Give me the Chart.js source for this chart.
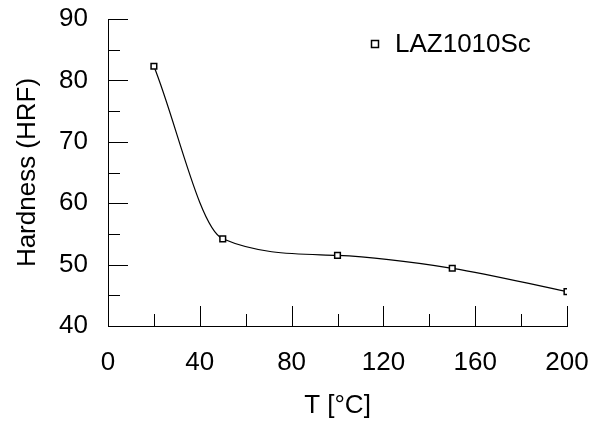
<!DOCTYPE html>
<html>
<head>
<meta charset="utf-8">
<script src="https://cdn.jsdelivr.net/npm/chart.js@4.4.0/dist/chart.umd.min.js"></script>
<style>
body{margin:0;background:#fff;}
#contenitore{width:592px;height:424px;}
</style>
</head>
<body>
<div id="contenitore"><canvas id="grafico"></canvas></div>
<script>
var temperature=[20,50,100,150,200];
var durezza=[82.3,54.2,51.5,49.4,45.6];
var nomeSerie="LAZ1010Sc";
var xTicks=[0,40,80,120,160,200];
var yTicks=[40,50,60,70,80,90];

var punti=[];
for(var i=0;i<temperature.length;i++)
{
    punti.push({x:temperature[i],y:durezza[i]});
}

// tacche interne agli assi (maggiori e minori) + legenda dentro il grafico
var tacche={
    id:'tacche',
    afterDraw:function(chart){
        var ctx=chart.ctx;
        var sx=chart.scales.x;
        var sy=chart.scales.y;
        var area=chart.chartArea;
        ctx.save();
        ctx.strokeStyle="#000";
        ctx.lineWidth=1;
        sx.ticks.forEach(function(t){
            var px=Math.round(sx.getPixelForValue(t.value))+0.5;
            var l=(xTicks.indexOf(t.value)>=0)?20:12;
            ctx.beginPath();
            ctx.moveTo(px,area.bottom);
            ctx.lineTo(px,area.bottom-l);
            ctx.stroke();
        });
        sy.ticks.forEach(function(t){
            var py=Math.round(sy.getPixelForValue(t.value))+0.5;
            var l=(yTicks.indexOf(t.value)>=0)?20:12;
            ctx.beginPath();
            ctx.moveTo(area.left,py);
            ctx.lineTo(area.left+l,py);
            ctx.stroke();
        });
        // legenda
        var ds=chart.data.datasets[0];
        var lx=area.right-192;
        var ly=area.top+25;
        ctx.lineWidth=1.5;
        ctx.fillStyle="#fff";
        ctx.fillRect(lx-3.5,ly-3.5,7,7);
        ctx.strokeRect(lx-3.5,ly-3.5,7,7);
        ctx.fillStyle="#000";
        ctx.font="26px 'Liberation Sans', Arial, sans-serif";
        ctx.textBaseline="middle";
        ctx.textAlign="left";
        ctx.fillText(ds.label,lx+20,ly+1);
        ctx.restore();
    }
};

Chart.defaults.font.family="'Liberation Sans', Arial, sans-serif";
Chart.defaults.color="#000";

var grafico=new Chart(document.getElementById("grafico"),{
    type:'scatter',
    data:{
        datasets:[{
            label:nomeSerie,
            data:punti,
            showLine:true,
            cubicInterpolationMode:'monotone',
            borderColor:"#000",
            borderWidth:1.2,
            pointStyle:'rect',
            pointRadius:4,
            pointBackgroundColor:"#fff",
            pointBorderColor:"#000",
            pointBorderWidth:1.5
        }]
    },
    options:{
        responsive:true,
        maintainAspectRatio:false,
        animation:false,
        layout:{padding:{top:19,right:25,left:0,bottom:0}},
        plugins:{
            legend:{display:false},
            tooltip:{enabled:false}
        },
        scales:{
            x:{
                type:'linear',
                min:0,
                max:200,
                afterFit:function(s){s.height=98;s.paddingLeft=0;s.paddingRight=0;},
                border:{display:true,color:"#000",width:1},
                grid:{display:true,drawOnChartArea:false,drawTicks:false},
                ticks:{
                    stepSize:20,
                    autoSkip:false,
                    maxRotation:0,
                    padding:21,
                    font:{size:26},
                    callback:function(v){return xTicks.indexOf(v)>=0?String(v):'';}
                },
                title:{display:true,text:'T [°C]',font:{size:26},padding:{top:6,bottom:3}}
            },
            y:{
                min:40,
                max:90,
                afterFit:function(s){s.width=108;s.paddingTop=0;s.paddingBottom=0;},
                border:{display:true,color:"#000",width:1},
                grid:{display:true,drawOnChartArea:false,drawTicks:false},
                ticks:{
                    stepSize:5,
                    autoSkip:false,
                    padding:20,
                    font:{size:26},
                    callback:function(v){return yTicks.indexOf(v)>=0?String(v):'';}
                },
                title:{display:true,text:'Hardness (HRF)',font:{size:26},padding:{bottom:0,top:12}}
            }
        }
    },
    plugins:[tacche]
});
</script>
</body>
</html>
